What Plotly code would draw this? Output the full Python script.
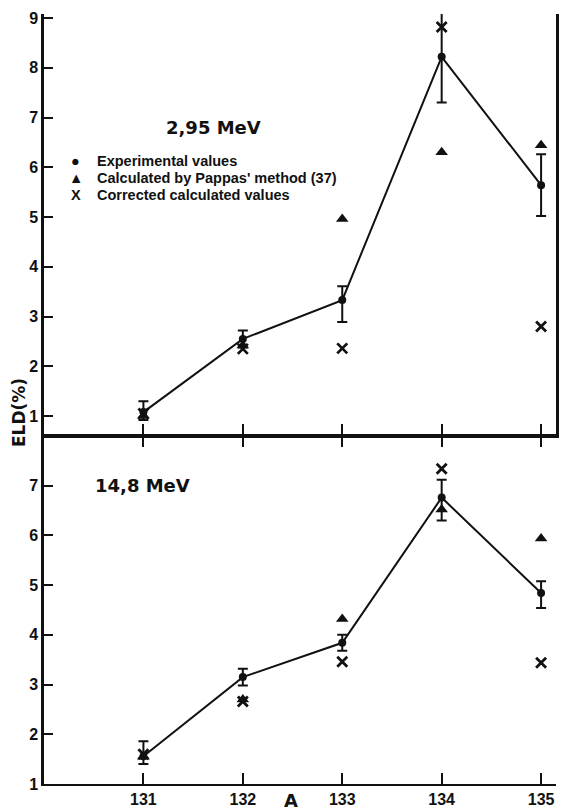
import plotly.graph_objects as go

# ---- data ----
A = [131, 132, 133, 134, 135]

# 2,95 MeV (top panel)
exp_295 = [1.08, 2.55, 3.33, 8.22, 5.64]
exp_295_up = [0.22, 0.17, 0.28, 0.90, 0.62]
exp_295_dn = [0.16, 0.17, 0.44, 0.92, 0.62]
pap_295 = [1.00, 2.42, 4.96, 6.30, 6.44]
cor_295 = [1.05, 2.35, 2.36, 8.82, 2.80]

# 14,8 MeV (bottom panel)
exp_148 = [1.56, 3.15, 3.84, 6.76, 4.84]
exp_148_up = [0.30, 0.17, 0.16, 0.36, 0.24]
exp_148_dn = [0.16, 0.17, 0.16, 0.46, 0.30]
pap_148 = [1.55, 2.70, 4.32, 6.52, 5.94]
cor_148 = [1.60, 2.66, 3.46, 7.34, 3.44]

x_ticks = [131, 132, 133, 134, 135]
x_ticklabels = ["131", "132", "133", "134", "135"]
y_top_ticks = [1, 2, 3, 4, 5, 6, 7, 8, 9]
y_bot_ticks = [1, 2, 3, 4, 5, 6, 7]

legend_labels = ["Experimental values", "Calculated by Pappas' method (37)", "Corrected calculated values"]
legend_symbols = ["\u25CF", "\u25B2", "X"]

FONT = "Liberation Sans"
FONT2 = "DejaVu Sans"
BLACK = "#111111"

fig = go.Figure()


def add_panel(xa, ya, exp, up, dn, pap, cor):
    fig.add_trace(go.Scatter(
        x=A, y=pap, xaxis=xa, yaxis=ya, mode="markers",
        marker=dict(symbol="triangle-up", size=11, color=BLACK),
        showlegend=False, hoverinfo="skip"))
    fig.add_trace(go.Scatter(
        x=A, y=cor, xaxis=xa, yaxis=ya, mode="markers",
        marker=dict(symbol="x-thin-open", size=10, color=BLACK,
                    line=dict(width=2.8, color=BLACK)),
        showlegend=False, hoverinfo="skip"))
    fig.add_trace(go.Scatter(
        x=A, y=exp, xaxis=xa, yaxis=ya, mode="lines+markers",
        line=dict(color=BLACK, width=2),
        marker=dict(symbol="circle", size=8, color=BLACK),
        error_y=dict(type="data", symmetric=False, array=up, arrayminus=dn,
                     color=BLACK, thickness=2, width=5),
        showlegend=False, hoverinfo="skip"))


add_panel("x2", "y2", exp_295, exp_295_up, exp_295_dn, pap_295, cor_295)
add_panel("x", "y", exp_148, exp_148_up, exp_148_dn, pap_148, cor_148)

tickfont = dict(family=FONT, size=16, color=BLACK, weight="bold")

common_x = dict(range=[130, 135.15], tickvals=x_ticks, ticktext=x_ticklabels,
                showgrid=False, zeroline=False, showline=True, linecolor=BLACK,
                linewidth=2, ticks="inside", tickcolor=BLACK, tickwidth=2)

fig.update_layout(
    width=563, height=812,
    margin=dict(l=44, r=4, t=14, b=24),
    paper_bgcolor="white", plot_bgcolor="white",
    showlegend=False,
    xaxis=dict(**common_x, anchor="y", domain=[0, 1], ticklen=11,
               mirror="ticks", tickfont=tickfont),
    xaxis2=dict(**common_x, anchor="y2", domain=[0, 1], ticklen=12,
                showticklabels=False, matches="x"),
    yaxis=dict(domain=[0, 0.452], range=[1, 8.0], tickvals=y_bot_ticks,
               showgrid=False, zeroline=False, showline=True, linecolor=BLACK,
               linewidth=2.5, ticks="inside", ticklen=9, tickwidth=2,
               tickcolor=BLACK, tickfont=tickfont, anchor="x"),
    yaxis2=dict(domain=[0.452, 1], range=[0.6, 9.08], tickvals=y_top_ticks,
                showgrid=False, zeroline=False, showline=True, linecolor=BLACK,
                linewidth=2.5, mirror=True, ticks="inside", ticklen=9, tickwidth=2,
                tickcolor=BLACK, tickfont=tickfont, anchor="x2"),
)

ann_font = dict(family=FONT2, size=18, color=BLACK, weight="bold")
leg_font = dict(family=FONT, size=14.5, color=BLACK, weight="bold")

fig.add_annotation(text="2,95 MeV", x=131.7, y=6.8, xref="x2", yref="y2",
                   showarrow=False, font=ann_font)
fig.add_annotation(text="14,8 MeV", x=130.99, y=7.0, xref="x", yref="y",
                   showarrow=False, font=ann_font)

leg_y = [6.12, 5.78, 5.44]
for sym, lab, yy in zip(legend_symbols, legend_labels, leg_y):
    fig.add_annotation(text=sym, x=130.32, y=yy, xref="x2", yref="y2",
                       showarrow=False, font=leg_font, xanchor="center")
    fig.add_annotation(text=lab, x=130.51, y=yy, xref="x2", yref="y2",
                       showarrow=False, font=leg_font, xanchor="left")

fig.add_annotation(text="ELD(%)", x=-0.072, y=0.482, xref="paper", yref="paper",
                   textangle=-90, showarrow=False,
                   font=dict(family=FONT2, size=17, color=BLACK, weight="bold"))
fig.add_annotation(text="A", x=132.48, y=-0.022, xref="x", yref="paper",
                   showarrow=False, font=ann_font, yanchor="middle")

fig.write_html("out.html")
